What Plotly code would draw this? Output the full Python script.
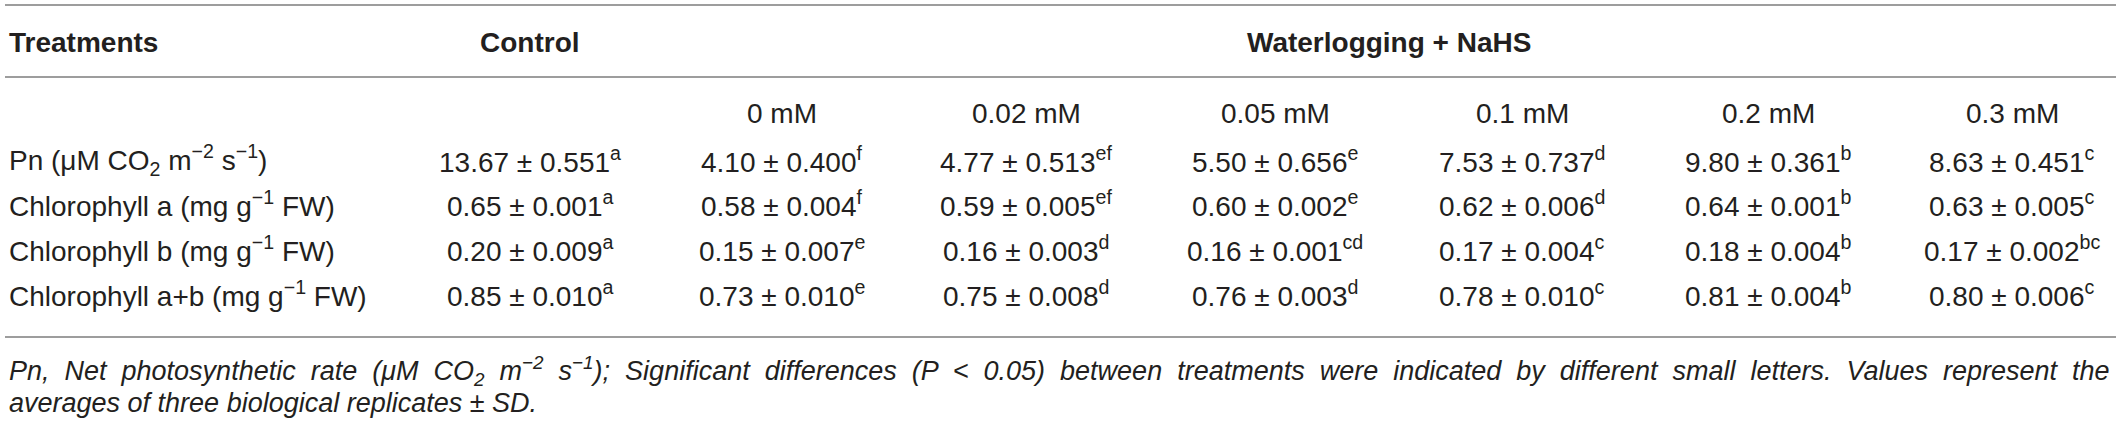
import plotly.graph_objects as go

# Table values
ROW_LABELS = [
    "Pn (μM CO<sub>2</sub> m<sup>−2</sup> s<sup>−1</sup>)",
    "Chlorophyll a (mg g<sup>−1</sup> FW)",
    "Chlorophyll b (mg g<sup>−1</sup> FW)",
    "Chlorophyll a+b (mg g<sup>−1</sup> FW)",
]
CONTROL_MEAN = [13.67, 0.65, 0.20, 0.85]
CONTROL_SD = [0.551, 0.001, 0.009, 0.010]
CONTROL_LETTERS = ["a", "a", "a", "a"]

NAHS_DOSES = ["0 mM", "0.02 mM", "0.05 mM", "0.1 mM", "0.2 mM", "0.3 mM"]

PN_MEAN = [4.10, 4.77, 5.50, 7.53, 9.80, 8.63]
PN_SD = [0.400, 0.513, 0.656, 0.737, 0.361, 0.451]
PN_LETTERS = ["f", "ef", "e", "d", "b", "c"]

CHLA_MEAN = [0.58, 0.59, 0.60, 0.62, 0.64, 0.63]
CHLA_SD = [0.004, 0.005, 0.002, 0.006, 0.001, 0.005]
CHLA_LETTERS = ["f", "ef", "e", "d", "b", "c"]

CHLB_MEAN = [0.15, 0.16, 0.16, 0.17, 0.18, 0.17]
CHLB_SD = [0.007, 0.003, 0.001, 0.004, 0.004, 0.002]
CHLB_LETTERS = ["e", "d", "cd", "c", "b", "bc"]

CHLAB_MEAN = [0.73, 0.75, 0.76, 0.78, 0.81, 0.80]
CHLAB_SD = [0.010, 0.008, 0.003, 0.010, 0.004, 0.006]
CHLAB_LETTERS = ["e", "d", "d", "c", "b", "c"]

FOOTNOTE_1 = ("Pn, Net photosynthetic rate (μM CO<sub>2</sub> m<sup>−2</sup> s<sup>−1</sup>); "
              "Significant differences (P &lt; 0.05) between treatments were indicated by "
              "different small letters. Values represent the")
FOOTNOTE_2 = "averages of three biological replicates ± SD."

# Layout (pixel coordinates)
W, H = 2118, 429
TEXT = "#231f20"
RULE = "#9d9d9d"
FONT = "Liberation Sans, Arial, Helvetica, sans-serif"
SIZE = 28
LABEL_X = 7
CONTROL_X = 530
DOSE_X = [782, 1026, 1275, 1522, 1768, 2012]
GROUP_X = 1389
HEADER_Y = 42
DOSE_Y = 113
ROW_Y = [160, 204, 249, 294]
RULE_Y = [5, 77, 337]
NOTE_Y = [371, 403]


def cell(mean, sd, letter):
    return f"{mean:.2f} ± {sd:.3f}<sup>{letter}</sup>"


fig = go.Figure()
ann = []


def text(x, y, s, anchor="center", bold=False, italic=False, size=SIZE):
    if bold:
        s = f"<b>{s}</b>"
    if italic:
        s = f"<i>{s}</i>"
    ann.append(dict(x=x, y=y, xref="x", yref="y", text=s, showarrow=False,
                    xanchor=anchor, yanchor="middle",
                    font=dict(family=FONT, size=size, color=TEXT)))


# headers
text(LABEL_X, HEADER_Y, "Treatments", anchor="left", bold=True)
text(CONTROL_X, HEADER_Y, "Control", bold=True)
text(GROUP_X, HEADER_Y, "Waterlogging + NaHS", bold=True)
for x, dose in zip(DOSE_X, NAHS_DOSES):
    text(x, DOSE_Y, dose)

# body rows
rows = [
    (PN_MEAN, PN_SD, PN_LETTERS),
    (CHLA_MEAN, CHLA_SD, CHLA_LETTERS),
    (CHLB_MEAN, CHLB_SD, CHLB_LETTERS),
    (CHLAB_MEAN, CHLAB_SD, CHLAB_LETTERS),
]
for i, (means, sds, letters) in enumerate(rows):
    y = ROW_Y[i]
    text(LABEL_X, y, ROW_LABELS[i], anchor="left")
    text(CONTROL_X, y, cell(CONTROL_MEAN[i], CONTROL_SD[i], CONTROL_LETTERS[i]))
    for x, m, s, l in zip(DOSE_X, means, sds, letters):
        text(x, y, cell(m, s, l))

# footnote (first line is justified in the reference: widen word gaps)
text(LABEL_X, NOTE_Y[0], FOOTNOTE_1.replace(" ", " \u00a0"), anchor="left", italic=True, size=27)
text(LABEL_X, NOTE_Y[1], FOOTNOTE_2, anchor="left", italic=True, size=27)

shapes = [dict(type="line", xref="x", yref="y", x0=5, x1=2116, y0=y, y1=y,
               line=dict(color=RULE, width=2)) for y in RULE_Y]

fig.update_layout(
    width=W, height=H,
    margin=dict(l=0, r=0, t=0, b=0),
    paper_bgcolor="white", plot_bgcolor="white",
    xaxis=dict(range=[0, W], visible=False, fixedrange=True),
    yaxis=dict(range=[H, 0], visible=False, fixedrange=True),
    annotations=ann, shapes=shapes, showlegend=False,
)

# drop the default page margin so the table sits at the window's corner
fig.write_html("out.html", config={"displayModeBar": False},
               post_script="document.body.style.margin='0';document.body.style.overflow='hidden';")
